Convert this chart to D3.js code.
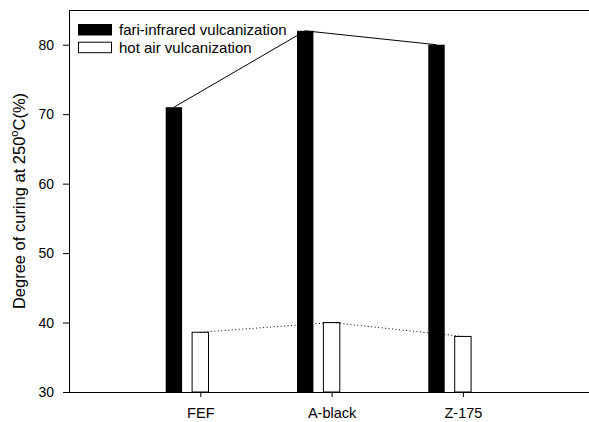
<!DOCTYPE html>
<html>
<head>
<meta charset="utf-8">
<script src="https://cdn.jsdelivr.net/npm/d3@7"></script>
<style>
  body { margin: 0; background: #fff; }
  text { font-family: Arial, "Liberation Sans", sans-serif; fill: #000; }
</style>
</head>
<body>
<script>
const categories = ['FEF', 'A-black', 'Z-175'];
const farInfrared = [71, 82, 80];
const hotAir = [38.6, 40, 38];
const yTicks = [30, 40, 50, 60, 70, 80];
const seriesNames = ['fari-infrared vulcanization', 'hot air vulcanization'];

const W = 589, H = 422;
const margin = { top: 10, left: 69, bottom: 30 };

const svg = d3.select('body').append('svg')
  .attr('width', W)
  .attr('height', H);

const x = d3.scaleLinear().domain([0, 4]).range([margin.left, margin.left + 4 * 131.3]);
const y = d3.scaleLinear().domain([30, 85]).range([H - margin.bottom, margin.top]);

const barW = 16.4;
const blackOffset = -26.4;

// top frame line
svg.append('line')
  .attr('x1', x(0)).attr('x2', W)
  .attr('y1', y(85) + 0.5).attr('y2', y(85) + 0.5)
  .attr('stroke', '#000').attr('stroke-width', 1);

// bottom axis
const xAxis = svg.append('g')
  .attr('transform', `translate(0,${y(30)})`)
  .call(d3.axisBottom(x)
    .tickValues([1, 2, 3])
    .tickFormat(d => categories[d - 1])
    .tickSize(5)
    .tickPadding(11)
    .tickSizeOuter(0));
xAxis.select('.domain').attr('d', `M${x(0)},0.5H${W}`);
xAxis.selectAll('text').attr('font-size', 14.5).attr('font-family', 'Arial');

// left axis
const yAxis = svg.append('g')
  .attr('transform', `translate(${x(0)},0)`)
  .call(d3.axisLeft(y)
    .tickValues(yTicks)
    .tickSize(6)
    .tickPadding(9)
    .tickSizeOuter(0));
yAxis.selectAll('text').attr('font-size', 14).attr('font-family', 'Arial');

// y label
const yl = svg.append('text')
  .attr('transform', `translate(25,201) rotate(-90)`)
  .attr('text-anchor', 'middle')
  .attr('font-size', 16.5);
yl.append('tspan').text('Degree of curing at 250');
yl.append('tspan').attr('dy', -7).attr('font-size', 11).text('o');
yl.append('tspan').attr('dy', 7).text('C(%)');

// bars
svg.selectAll('.bar-ir')
  .data(farInfrared)
  .join('rect')
  .attr('class', 'bar-ir')
  .attr('x', (d, i) => x(i + 1) + blackOffset - barW / 2)
  .attr('y', d => y(d))
  .attr('width', barW)
  .attr('height', d => y(30) - y(d))
  .attr('fill', '#000');

svg.selectAll('.bar-air')
  .data(hotAir)
  .join('rect')
  .attr('class', 'bar-air')
  .attr('x', (d, i) => x(i + 1) - barW / 2)
  .attr('y', d => y(d))
  .attr('width', barW)
  .attr('height', d => y(30) - y(d))
  .attr('fill', '#fff')
  .attr('stroke', '#000')
  .attr('stroke-width', 1);

// connecting lines
const lineIr = d3.line()
  .x((d, i) => x(i + 1) + blackOffset)
  .y(d => y(d));
svg.append('path')
  .attr('d', lineIr(farInfrared))
  .attr('fill', 'none')
  .attr('stroke', '#000')
  .attr('stroke-width', 1);

const lineAir = d3.line()
  .x((d, i) => x(i + 1))
  .y(d => y(d));
svg.append('path')
  .attr('d', lineAir(hotAir))
  .attr('fill', 'none')
  .attr('stroke', '#000')
  .attr('stroke-width', 1)
  .attr('stroke-dasharray', '1,2.5');

// black bars sit over the dotted line
svg.selectAll('.bar-ir').raise();

// legend
const legend = svg.append('g').attr('transform', 'translate(78,24)');
seriesNames.forEach((name, i) => {
  const g = legend.append('g').attr('transform', `translate(0,${i * 17.7})`);
  g.append('rect')
    .attr('x', 0.5).attr('y', 0.5)
    .attr('width', 33).attr('height', 10.5)
    .attr('fill', i === 0 ? '#000' : '#fff')
    .attr('stroke', '#000').attr('stroke-width', 1);
  g.append('text')
    .attr('x', 41).attr('y', 11)
    .attr('font-size', 15)
    .text(name);
});
</script>
</body>
</html>
